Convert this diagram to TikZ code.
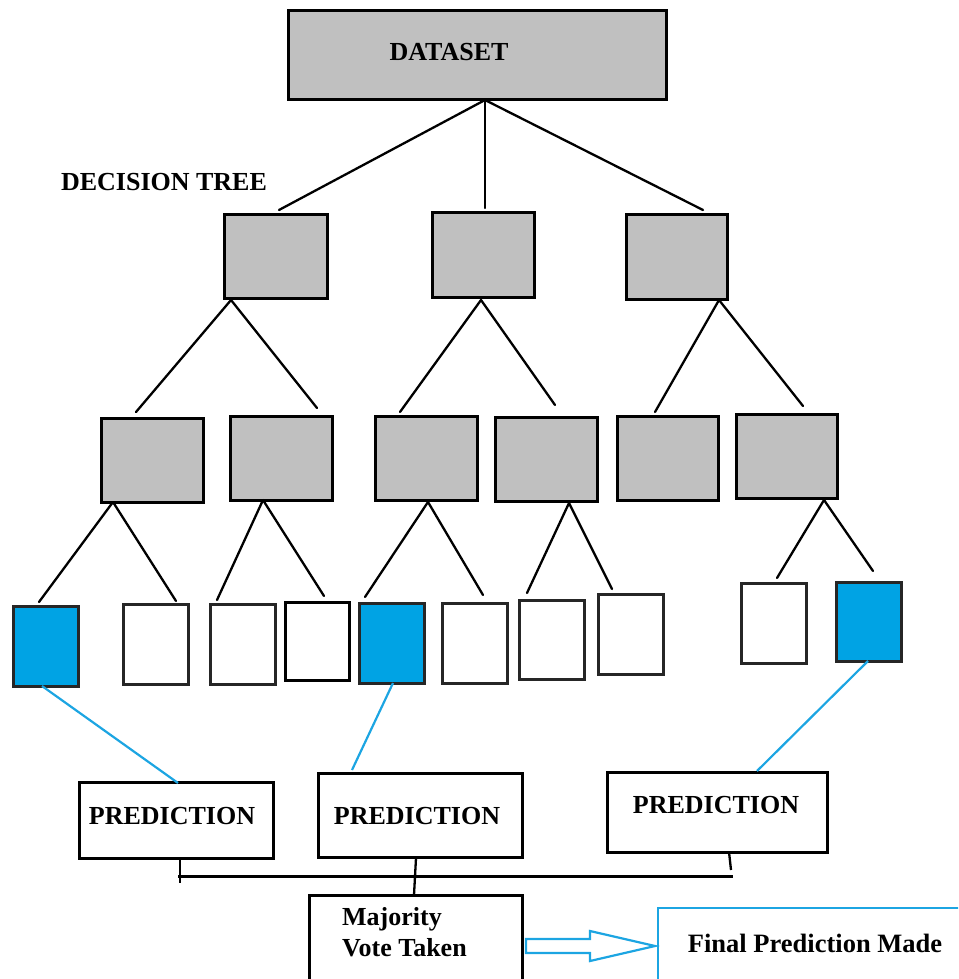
\documentclass[tikz,border=0pt]{standalone}
\usepackage{fontspec}
\setmainfont{Liberation Serif}
\definecolor{nodegray}{RGB}{192,192,192}
\definecolor{leafblue}{RGB}{0,163,228}
\definecolor{linkblue}{RGB}{28,165,226}
\begin{document}
\begin{tikzpicture}[x=1pt,y=-1pt,
  box/.style={draw=black, line width=3pt, anchor=north west, inner sep=0pt, outer sep=0pt},
  graybox/.style={box, fill=nodegray},
  inner/.style={graybox, minimum width=102pt, minimum height=84pt},
  leaf/.style={box, draw=black!85, minimum width=65pt, minimum height=80pt},
  hitleaf/.style={leaf, fill=leafblue},
  predbox/.style={box},
  lbl/.style={inner sep=0pt, font=\fontsize{26}{30}\selectfont\bfseries},
  edge/.style={draw=black, line width=2.3pt, line cap=round},
  bluelink/.style={draw=linkblue, line width=2.2pt},
  bus/.style={draw=black, line width=3pt}
]
\useasboundingbox (0,0) rectangle (958,979);
\clip (0,0) rectangle (958,979);

% root
\node[graybox, minimum width=378pt, minimum height=89pt] (ds) at (288,11) {};
\node[lbl] (dstext) at (449,52) {DATASET};
\node[lbl] (dttext) at (164,182) {DECISION TREE};

% first level of the tree
\node[graybox, minimum width=103pt, minimum height=84pt] (ta) at (224,214) {};
\node[graybox, minimum width=102pt, minimum height=85pt] (tb) at (432,212) {};
\node[graybox, minimum width=101pt, minimum height=85pt] (tc) at (626,214) {};

% second level
\node[inner] (d) at (101,418) {};
\node[inner] (e) at (230,416) {};
\node[inner] (f) at (375,416) {};
\node[inner] (g) at (495,417) {};
\node[inner, minimum width=101pt] (h) at (617,416) {};
\node[inner, minimum width=101pt] (i) at (736,414) {};

% leaves
\node[hitleaf] (l1) at (13,606) {};
\node[leaf] (l2) at (123,604) {};
\node[leaf] (l3) at (210,604) {};
\node[leaf, draw=black, minimum width=64pt, minimum height=78pt] (l4) at (285,602) {};
\node[hitleaf] (l5) at (359,603) {};
\node[leaf] (l6) at (442,603) {};
\node[leaf, minimum height=79pt] (l7) at (519,600) {};
\node[leaf] (l8) at (598,594) {};
\node[leaf] (l9) at (741,583) {};
\node[hitleaf, minimum height=79pt] (l10) at (836,582) {};

% predictions and vote
\node[predbox, minimum width=194pt, minimum height=76pt] (p1) at (79,782) {};
\node[lbl] (p1text) at (172,816) {PREDICTION};
\node[predbox, minimum width=204pt, minimum height=84pt] (p2) at (318,773) {};
\node[lbl] (p2text) at (417,816) {PREDICTION};
\node[predbox, minimum width=220pt, minimum height=80pt] (p3) at (607,772) {};
\node[lbl] (p3text) at (716,805) {PREDICTION};

\node[box, minimum width=213pt, minimum height=110pt] (mv) at (309,895) {};
\node[lbl, anchor=north west, align=left, font=\fontsize{26}{31}\selectfont\bfseries] (mvtext) at (342,907) {Majority\\Vote Taken};

\node[box, draw=linkblue, line width=2pt, minimum width=320pt, minimum height=100pt] (fp) at (658,908) {};
\node[lbl, font=\fontsize{26.5}{30}\selectfont\bfseries] (fptext) at (815,943) {Final Prediction Made};

% branching points
\coordinate (dsa) at (485,100);
\coordinate (ta1) at (279,210); \coordinate (tb1) at (485,208); \coordinate (tc1) at (703,210);
\coordinate (taa) at (231,300); \coordinate (tba) at (481,300); \coordinate (tca) at (719,300);
\coordinate (d1) at (136,412); \coordinate (e1) at (317,408);
\coordinate (f1) at (400,412); \coordinate (g1) at (555,405);
\coordinate (h1) at (655,412); \coordinate (i1) at (803,406);
\coordinate (da) at (113,502); \coordinate (ea) at (263,500);
\coordinate (fa) at (428,502); \coordinate (ga) at (569,503);
\coordinate (ia) at (824,500);
\coordinate (l1t) at (39,602); \coordinate (l2t) at (176,601);
\coordinate (l3t) at (217,600); \coordinate (l4t) at (324,596);
\coordinate (l5t) at (365,597); \coordinate (l6t) at (483,595);
\coordinate (l7t) at (527,593); \coordinate (l8t) at (612,589);
\coordinate (l9t) at (777,578); \coordinate (l10t) at (873,571);

\draw[edge] (dsa) -- (ta1);
\draw[edge] (dsa) -- (tb1);
\draw[edge] (dsa) -- (tc1);
\draw[edge] (taa) -- (d1);  \draw[edge] (taa) -- (e1);
\draw[edge] (tba) -- (f1);  \draw[edge] (tba) -- (g1);
\draw[edge] (tca) -- (h1);  \draw[edge] (tca) -- (i1);
\draw[edge] (da) -- (l1t);  \draw[edge] (da) -- (l2t);
\draw[edge] (ea) -- (l3t);  \draw[edge] (ea) -- (l4t);
\draw[edge] (fa) -- (l5t);  \draw[edge] (fa) -- (l6t);
\draw[edge] (ga) -- (l7t);  \draw[edge] (ga) -- (l8t);
\draw[edge] (ia) -- (l9t);  \draw[edge] (ia) -- (l10t);

% chosen leaves to their predictions
\coordinate (l1b) at (42,686);  \coordinate (p1t) at (178,783);
\coordinate (l5b) at (393,683); \coordinate (p2t) at (352,770);
\coordinate (l10b) at (868,661); \coordinate (p3t) at (757,771);
\draw[bluelink] (l1b) -- (p1t);
\draw[bluelink] (l5b) -- (p2t);
\draw[bluelink] (l10b) -- (p3t);

% collecting bus
\coordinate (busl) at (178,876); \coordinate (busr) at (733,876);
\coordinate (p1b) at (180,858); \coordinate (p1d) at (180,883);
\coordinate (p2b) at (416,858); \coordinate (mvt) at (414,895);
\coordinate (p3b) at (729,852); \coordinate (p3d) at (731,870);
\draw[bus] (busl) -- (busr);
\draw[edge, line cap=butt] (p1b) -- (p1d);
\draw[edge, line cap=butt] (p2b) -- (mvt);
\draw[edge, line cap=butt] (p3b) -- (p3d);

% hollow arrow to the final result
\draw[draw=linkblue, line width=2.2pt, line join=miter]
  (526,939) -- (590,939) -- (590,931) -- (655,946) -- (590,961) -- (590,953) -- (526,953) -- cycle;
\end{tikzpicture}
\end{document}
